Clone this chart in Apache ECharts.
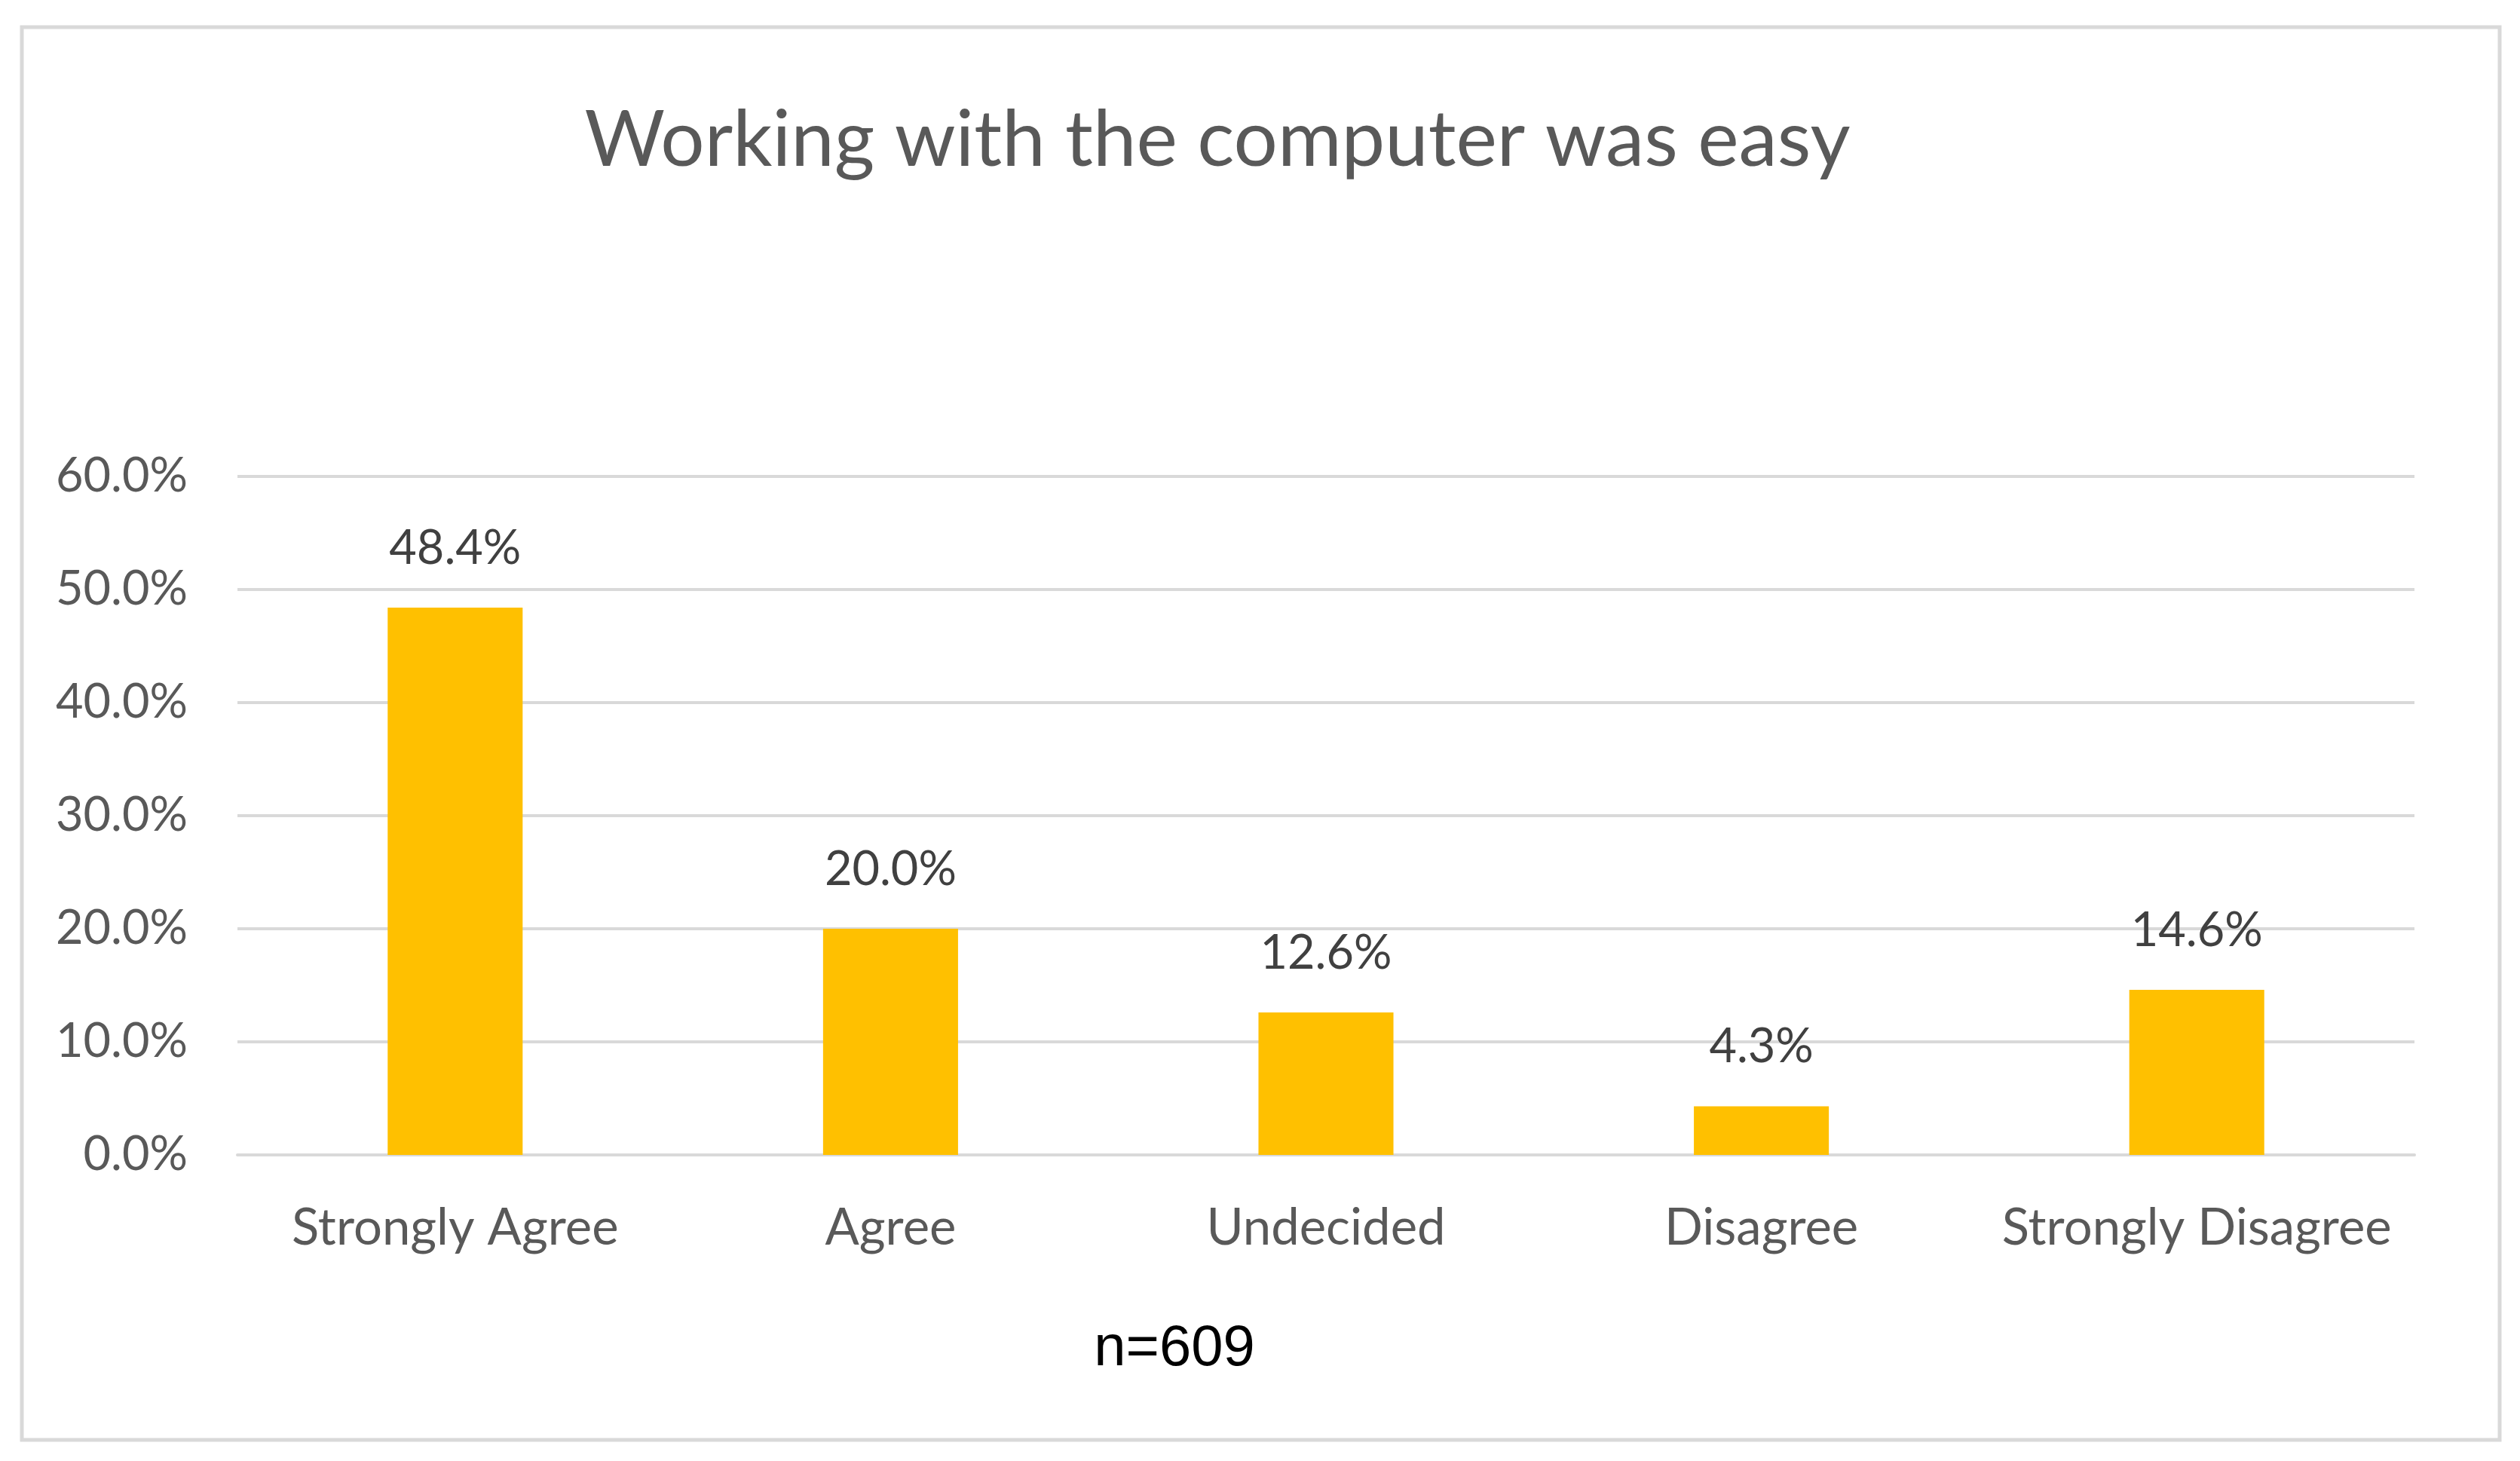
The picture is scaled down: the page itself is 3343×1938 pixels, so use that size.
<!DOCTYPE html>
<html>
<head>
<meta charset="utf-8">
<title>Working with the computer was easy</title>
<script src="https://cdn.jsdelivr.net/npm/echarts@6.0.0/dist/echarts.min.js"></script>
<style>
  html, body { margin: 0; padding: 0; background: #fff; }
  #main { width: 3343px; height: 1938px; }
</style>
</head>
<body>
<div id="main"></div>
<script>
// chart data
var categories = ['Strongly Agree', 'Agree', 'Undecided', 'Disagree', 'Strongly Disagree'];
var percents = [48.4, 20.0, 12.6, 4.3, 14.6];
var yTicks = [0, 10, 20, 30, 40, 50, 60];
var chartTitle = 'Working with the computer was easy';
var sampleNote = 'n=609';

var labelFont = 'Lato, "Open Sans", sans-serif';
var grey = '#595959';

var myChart = echarts.init(document.getElementById('main'));

var option = {
  backgroundColor: '#fff',
  animation: false,
  title: {
    text: chartTitle,
    left: 1610,
    top: 130,
    textAlign: 'center',
    textStyle: { fontFamily: labelFont, fontSize: 103, fontWeight: 'normal', color: grey }
  },
  grid: { left: 315, right: 140, top: 632, bottom: 406 },
  xAxis: {
    type: 'category',
    data: categories,
    axisLine: { show: true, lineStyle: { color: '#d9d9d9', width: 4 } },
    axisTick: { show: false },
    axisLabel: { interval: 0, margin: 64, fontFamily: labelFont, fontSize: 67, color: grey }
  },
  yAxis: {
    type: 'value',
    min: yTicks[0],
    max: yTicks[yTicks.length - 1],
    interval: 10,
    axisLine: { show: false },
    axisTick: { show: false },
    splitLine: { lineStyle: { color: '#d9d9d9', width: 4 } },
    axisLabel: {
      margin: 66,
      fontFamily: labelFont, fontSize: 63, color: grey,
      formatter: function (v) { return v.toFixed(1) + '%'; }
    }
  },
  series: [{
    type: 'bar',
    data: percents,
    barWidth: '31%',
    itemStyle: { color: '#FFC000' },
    label: {
      show: true,
      position: 'top',
      distance: 47,
      fontFamily: labelFont, fontSize: 63, color: '#404040',
      formatter: function (p) { return p.value.toFixed(1) + '%'; }
    }
  }],
  graphic: [
    {
      type: 'rect',
      shape: { x: 29, y: 36, width: 3287, height: 1874 },
      style: { fill: 'none', stroke: '#d9d9d9', lineWidth: 5 },
      silent: true
    },
    {
      type: 'text',
      x: 1558, y: 1828,
      style: {
        text: sampleNote,
        fill: '#000',
        font: '76px "Liberation Sans", Arial, sans-serif',
        textAlign: 'center',
        textVerticalAlign: 'bottom'
      }
    }
  ]
};

myChart.setOption(option);
</script>
</body>
</html>
